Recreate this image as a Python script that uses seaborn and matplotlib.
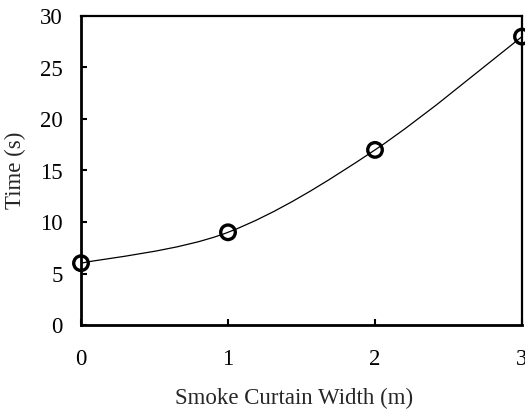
#!/usr/bin/env python3
"""Smoke curtain width vs time, smoothed line with open circle markers."""

import matplotlib
matplotlib.use("Agg")
import matplotlib.pyplot as plt
from matplotlib.path import Path
from matplotlib.patches import PathPatch
import numpy as np
import pandas as pd
import seaborn as sns

# -- data --------------------------------------------------------------------

WIDTH_M = [0, 1, 2, 3]
TIME_S = [6, 9, 17, 28]
X_TICKS = [0, 1, 2, 3]
Y_TICKS = [0, 5, 10, 15, 20, 25, 30]

# -- style -------------------------------------------------------------------

sns.set_theme(style="ticks")
plt.rcParams.update({
    "font.family": ["Liberation Serif", "DejaVu Serif"],
    "font.size": 16.5,
    "axes.edgecolor": "black",
    "xtick.color": "black",
    "ytick.color": "black",
})


def smooth_path(xs, ys):
    """Catmull-Rom style smoothed line as cubic bezier segments."""
    pts = np.column_stack([xs, ys]).astype(float)
    n = len(pts)
    verts = [pts[0]]
    codes = [Path.MOVETO]
    for i in range(n - 1):
        p0 = pts[i - 1] if i > 0 else pts[i]
        p1 = pts[i]
        p2 = pts[i + 1]
        p3 = pts[i + 2] if i + 2 < n else pts[i + 1]
        c1 = p1 + (p2 - p0) / 6.0
        c2 = p2 - (p3 - p1) / 6.0
        verts += [c1, c2, p2]
        codes += [Path.CURVE4] * 3
    return Path(verts, codes)


def main() -> None:
    df = pd.DataFrame({"width": WIDTH_M, "time": TIME_S})

    fig = plt.figure(figsize=(5.25, 4.11), dpi=100)
    ax = fig.add_axes([81 / 525, 1 - 325 / 411, 441 / 525, 309 / 411])

    ax.add_patch(PathPatch(smooth_path(df["width"], df["time"]),
                           facecolor="none", edgecolor="black", lw=0.9))
    sns.scatterplot(data=df, x="width", y="time", ax=ax,
                    marker="o", s=110, facecolor="none",
                    edgecolor="black", linewidth=2.4, zorder=3, clip_on=False)

    ax.set_xlim(0, 3)
    ax.set_ylim(0, 30)
    ax.set_xticks(X_TICKS)
    ax.set_yticks(Y_TICKS)
    ax.tick_params(direction="in", length=4, width=1.5, labelsize=16.5,
                   top=False, right=False)
    ax.tick_params(axis="x", pad=17)
    ax.tick_params(axis="y", pad=13)
    for side in ["left", "bottom"]:
        ax.spines[side].set_linewidth(2.0)
    for side in ["top", "right"]:
        ax.spines[side].set_linewidth(1.6)
    ax.set_xlabel("Smoke Curtain Width (m)", fontsize=16.5)
    ax.set_ylabel("Time (s)", fontsize=16.5)
    ax.xaxis.set_label_coords(0.483, -0.205)
    ax.yaxis.set_label_coords(-0.125, 0.5)

    fig.savefig("out.png", dpi=100)
    plt.close(fig)


if __name__ == "__main__":
    main()
